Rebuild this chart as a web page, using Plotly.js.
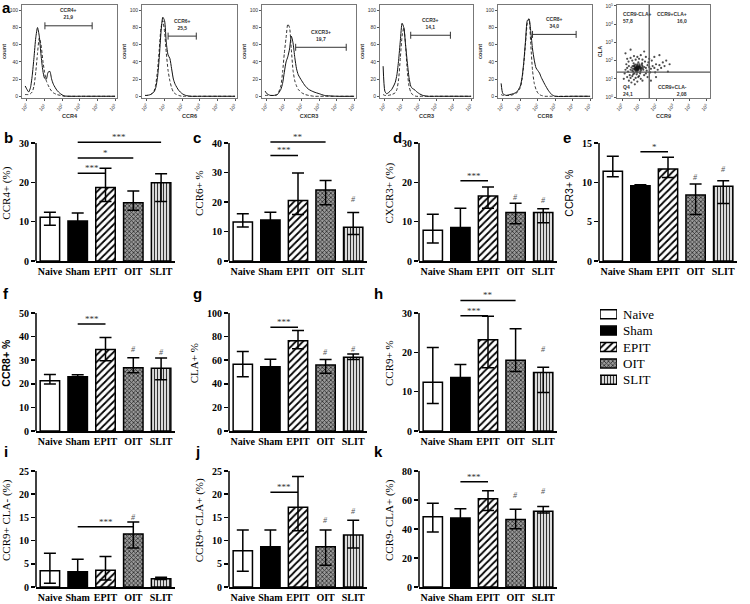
<!DOCTYPE html>
<html><head><meta charset="utf-8">
<script src="https://cdn.plot.ly/plotly-3.0.1.min.js"></script>
<style>html,body{margin:0;padding:0;background:#fff}#chart{width:750px;height:604px}</style>
</head><body><div id="chart"></div>
<script>
// ---------- DATA ----------
const groups = ['Naive','Sham','EPIT','OIT','SLIT'];

// bar panels: mean, upper and lower error ends
const ccr4Mean = [11.1,10.2,18.7,14.8,19.9], ccr4Hi = [12.4,12.2,23.6,17.8,22.2], ccr4Lo = [9.1,8.3,15.1,12.9,15.1];
const ccr6Mean = [13.2,13.9,20.5,24.1,11.4], ccr6Hi = [16.0,16.5,29.8,27.3,16.4], ccr6Lo = [11.5,11.3,15.8,19.1,9.0];
const cxcr3Mean = [7.8,8.5,16.5,12.3,12.3], cxcr3Hi = [11.9,13.4,18.8,14.7,13.3], cxcr3Lo = [4.6,3.6,13.4,9.5,9.7];
const ccr3Mean = [11.4,9.55,11.7,8.4,9.5], ccr3Hi = [13.3,9.7,13.2,9.8,10.2], ccr3Lo = [10.7,9.4,10.6,5.9,7.3];
const ccr8Mean = [21.3,23.0,34.5,26.8,26.6], ccr8Hi = [23.9,23.8,39.6,31.0,30.9], ccr8Lo = [19.9,22.2,29.8,24.7,21.7];
const claMean = [56.5,54.5,76.4,56.0,62.5], claHi = [67.3,60.8,85.2,60.5,65.3], claLo = [46.0,48.2,69.6,48.9,60.5];
const ccr9Mean = [12.4,13.6,23.2,18.0,14.9], ccr9Hi = [21.2,16.9,29.2,26.0,16.2], ccr9Lo = [7.0,10.3,16.1,15.1,9.8];
const ccr9pClaNMean = [3.5,3.3,3.6,11.4,1.8], ccr9pClaNHi = [7.3,6.0,6.6,14.0,2.1], ccr9pClaNLo = [0.8,0.6,1.5,8.4,1.6];
const ccr9pClaPMean = [7.8,8.7,17.2,8.7,11.2], ccr9pClaPHi = [12.3,12.3,23.8,12.3,14.4], ccr9pClaPLo = [3.4,5.1,12.1,4.7,8.4];
const ccr9nClaPMean = [48.5,47.5,60.8,46.6,52.3], ccr9nClaPHi = [57.8,54.0,66.3,53.7,55.5], ccr9nClaPLo = [38.0,41.0,52.8,40.2,51.0];

// significance brackets (from, to, level, label) and '#' marks per panel
const sigB = {from:['Sham','Sham','Sham'], to:['SLIT','OIT','EPIT'], y:[30.2,26.2,22.3], text:['***','*','***']};
const sigC = {from:['Sham','Sham'], to:['EPIT','OIT'], y:[35.8,40.3], text:['***','**']};
const sigD = {from:['Sham'], to:['EPIT'], y:[20.4], text:['***']};
const sigE = {from:['Sham'], to:['EPIT'], y:[13.9], text:['*']};
const sigF = {from:['Sham'], to:['EPIT'], y:[45.3], text:['***']};
const sigG = {from:['Sham'], to:['EPIT'], y:[88], text:['***']};
const sigH = {from:['Sham','Sham'], to:['EPIT','OIT'], y:[29.3,33.2], text:['***','**']};
const sigI = {from:['Sham'], to:['OIT'], y:[13.0], text:['***']};
const sigJ = {from:['Sham'], to:['EPIT'], y:[20.4], text:['***']};
const sigK = {from:['Sham'], to:['EPIT'], y:[72.5], text:['***']};
const hashB = [null,null,null,null,null];
const hashC = [null,null,null,null,20.9];
const hashD = [null,null,null,16.2,15.5];
const hashE = [null,null,null,10.6,11.6];
const hashF = [null,null,null,34.4,33.2];
const hashG = [null,null,null,66.5,69.3];
const hashH = [null,null,null,null,20.6];
const hashI = [null,null,null,15.0,null];
const hashJ = [null,null,null,14.4,16.2];
const hashK = [null,null,null,63.3,65.6];

// flow histograms (x in log10 decades, y = count)
const ccr4HistX = [-0.1,0,0.1,0.2,0.3,0.4,0.5,0.6,0.7,0.8,0.9,1.0,1.1,1.2,1.3,1.4,1.5,1.7,1.9,2.1,2.5,3,4,5];
const ccr4Solid = [12,8,5,10,24,45,68,80,70,48,30,21,20,28,29,20,14,7,3,0.5,0,0,0,0];
const ccr4Dashed = [2,2,2,3,5,12,28,50,68,60,42,28,18,13,9,6,4,2,1,0,0,0,0,0];
const ccr6HistX = [-0.1,0,0.2,0.4,0.5,0.6,0.7,0.8,0.9,1.0,1.1,1.2,1.3,1.4,1.5,1.6,1.8,2.0,2.2,2.5,3,4,5];
const ccr6Solid = [1,1,2,5,10,22,45,75,92,88,62,48,44,32,20,14,7,3,1,0,0,0,0];
const ccr6Dashed = [1,1,2,6,14,30,55,80,88,75,50,30,18,10,5,3,1,0,0,0,0,0,0];
const cxcr3HistX = [-0.1,0,0.2,0.4,0.6,0.8,0.9,1.0,1.1,1.2,1.3,1.4,1.5,1.6,1.7,1.8,2.0,2.2,2.4,2.7,3.0,3.3,4,5];
const cxcr3Solid = [6,3,1,1,2,8,15,28,40,46,55,70,62,45,32,25,18,12,8,5,3,1,0,0];
const cxcr3Dashed = [1,1,1,1,2,12,28,50,68,84,80,55,30,18,12,8,4,2,1,0,0,0,0,0];
const ccr3HistX = [-0.1,0,0.1,0.2,0.4,0.6,0.7,0.8,0.9,1.0,1.1,1.2,1.3,1.4,1.5,1.6,1.7,1.8,2.0,2.2,2.5,3,4,5];
const ccr3Solid = [35,6,3,4,8,16,25,42,65,85,80,60,40,22,12,9,8,6,3,1,0,0,0,0];
const ccr3Dashed = [2,1,1,1,2,4,8,20,45,70,80,60,30,12,5,2,1,0,0,0,0,0,0,0];
const ccr8HistX = [-0.1,0,0.2,0.4,0.6,0.8,1.0,1.1,1.2,1.3,1.4,1.5,1.6,1.7,1.8,1.9,2.0,2.1,2.2,2.4,2.6,2.8,3.0,4,5];
const ccr8Solid = [15,3,1,2,3,5,12,22,40,65,88,90,75,55,42,33,30,27,22,14,7,2,0,0,0];
const ccr8Dashed = [2,1,1,1,2,4,10,20,38,62,85,90,60,30,15,8,4,2,1,0,0,0,0,0,0];
const histMarkers = ['CCR4','CCR6','CXCR3','CCR3','CCR8'];
const gateName = ['CCR4+','CCR6+','CXCR3+','CCR3+','CCR8+'];
const gatePct = ['21,9','25,5','19,7','14,1','34,0'];
const gateLo = [1.02,1.2,1.65,1.5,1.7];
const gateHi = [3.7,2.8,4.55,3.8,4.2];
const gateLevel = [82,70,57,71,72];

// CCR9 vs CLA dot plot (log10 decades)
const scatX = [0.9,0.85,0.95,1.0,0.8,0.75,1.05,0.92,0.88,1.1,0.7,0.65,1.15,0.98,0.82,1.2,0.6,0.78,1.02,0.9,1.25,0.55,1.3,0.72,1.08,0.96,0.68,1.18,0.5,0.86,1.4,1.5,1.45,1.6,1.7,1.55,1.8,1.9,2.0,1.65,2.1,2.2,1.35,1.75,2.3,1.95,2.5,2.4,0.4,0.35,0.3,0.45,0.25,0.2,0.38,0.15,0.5,0.3,0.6,0.8,1.0,0.7,0.9,1.1,0.55,1.3,0.4,1.2,0.75,1.5,0.95,1.4,0.65,0.8,1.0,0.6,1.2,0.9,1.4,0.5,1.1,0.7,1.6,0.3,1.9,2.7,2.6,0.1,1.7,0.2,2.2,1.3,0.5,2.0,2.8,0.84,0.94,0.76,1.04,0.88,0.99,0.8,1.12,0.72,0.62,1.22,0.9,0.66,1.06,1.16,0.87,0.93,0.79,1.01,0.83,0.97,0.74,1.09,0.91,0.86];
const scatY = [1.6,1.55,1.65,1.58,1.62,1.5,1.7,1.45,1.72,1.55,1.68,1.55,1.62,1.5,1.4,1.7,1.45,1.78,1.8,1.35,1.5,1.62,1.65,1.3,1.4,1.9,1.85,1.85,1.5,1.25,1.6,1.75,1.45,1.65,1.55,1.9,1.7,1.6,1.8,1.35,1.5,1.75,1.95,2.0,1.6,1.35,1.7,1.9,1.7,1.4,1.6,1.2,1.8,1.5,1.95,1.3,1.05,1.1,1.15,1.05,1.15,0.95,0.85,1.0,0.8,1.2,0.9,0.9,0.7,1.1,1.1,1.3,1.25,2.05,2.1,2.0,2.05,2.2,2.2,2.15,2.3,2.25,2.1,2.1,2.2,1.4,2.0,1.0,0.9,2.4,2.3,2.5,2.6,1.1,1.8,1.6,1.56,1.6,1.64,1.52,1.7,1.48,1.48,1.72,1.7,1.58,1.8,1.4,1.3,1.78,1.63,1.53,1.57,1.67,1.66,1.6,1.54,1.59,1.69,1.47];
const quadGateX = 1.6, quadGateY = 1.37;
const quadLabels = ['CCR9-CLA+<br>57,8','CCR9+CLA+<br>16,0','Q4<br>24,1','CCR9+CLA-<br>2,08'];
const decadeTicks = ['10<sup>0</sup>','10<sup>1</sup>','10<sup>2</sup>','10<sup>3</sup>','10<sup>4</sup>','10<sup>5</sup>'];

// ---------- PANEL SETUP ----------
const SERIF = 'Liberation Serif, Times New Roman, serif', SANS = 'Liberation Sans, Arial, sans-serif';
const panels = [
  {mean:ccr4Mean, hi:ccr4Hi, lo:ccr4Lo, top:30, dtick:10, title:'CCR4+ (%)', tf:{family:SERIF,size:11}, sig:sigB, hash:hashB, letter:'b'},
  {mean:ccr6Mean, hi:ccr6Hi, lo:ccr6Lo, top:40, dtick:10, title:'CCR6+ %', tf:{family:SERIF,size:11}, sig:sigC, hash:hashC, letter:'c'},
  {mean:cxcr3Mean, hi:cxcr3Hi, lo:cxcr3Lo, top:30, dtick:10, title:'CXCR3+ (%)', tf:{family:SERIF,size:11}, sig:sigD, hash:hashD, letter:'d'},
  {mean:ccr3Mean, hi:ccr3Hi, lo:ccr3Lo, top:15, dtick:5, title:'CCR3+ %', tf:{family:SANS,size:10.5}, sig:sigE, hash:hashE, letter:'e'},
  {mean:ccr8Mean, hi:ccr8Hi, lo:ccr8Lo, top:50, dtick:10, title:'CCR8+ %', tf:{family:SANS,size:10.5,weight:'bold'}, sig:sigF, hash:hashF, letter:'f'},
  {mean:claMean, hi:claHi, lo:claLo, top:100, dtick:20, title:'CLA+ %', tf:{family:SERIF,size:11}, sig:sigG, hash:hashG, letter:'g'},
  {mean:ccr9Mean, hi:ccr9Hi, lo:ccr9Lo, top:30, dtick:10, title:'CCR9+ %', tf:{family:SERIF,size:11}, sig:sigH, hash:hashH, letter:'h'},
  {mean:ccr9pClaNMean, hi:ccr9pClaNHi, lo:ccr9pClaNLo, top:25, dtick:5, title:'CCR9+ CLA- (%)', tf:{family:SERIF,size:11}, sig:sigI, hash:hashI, letter:'i'},
  {mean:ccr9pClaPMean, hi:ccr9pClaPHi, lo:ccr9pClaPLo, top:25, dtick:5, title:'CCR9+ CLA+ (%)', tf:{family:SERIF,size:11}, sig:sigJ, hash:hashJ, letter:'j'},
  {mean:ccr9nClaPMean, hi:ccr9nClaPHi, lo:ccr9nClaPLo, top:80, dtick:20, title:'CCR9- CLA+ (%)', tf:{family:SERIF,size:11}, sig:sigK, hash:hashK, letter:'k'}
];
const panelCol = [0,1,2,3,0,1,2,0,1,2];
const panelRow = [0,0,0,0,1,1,1,2,2,2];
const colPx = [[36,175],[229,367],[419,557],[599,737]];
const rowPx = [[261,143],[431,313],[587,471]];
const letterPx = [[8,137],[197,137],[398,137],[567,137],[6,293],[197,293],[378,293],[6,451],[197,451],[378,451]];
const headroom = 1.15;

const groupStyle = [
  {bg:'#ffffff', shape:'', fg:'#000', size:4, sol:0.3},
  {bg:'#000000', shape:'', fg:'#000', size:4, sol:0.3},
  {bg:'#ffffff', shape:'/', fg:'#000', size:5, sol:0.35},
  {bg:'#9a9a9a', shape:'x', fg:'#2a2a2a', size:3, sol:0.45},
  {bg:'#ffffff', shape:'|', fg:'#333', size:3, sol:0.45}
];
const barMarker = s => ({color: s.bg, line: {color: '#000', width: 1.5},
  pattern: {shape: s.shape, fgcolor: s.fg, bgcolor: s.bg, size: s.size, solidity: s.sol, fillmode: 'replace'}});

const W = 750, H = 604;
const fx = px => px / W, fy = px => 1 - px / H;

const data = [];
const layout = {
  width: W, height: H, autosize: false,
  margin: {l:0, r:0, t:0, b:0},
  paper_bgcolor: '#fff', plot_bgcolor: 'rgba(0,0,0,0)',
  barmode: 'overlay', bargap: 0.3,
  font: {family: SERIF, color: '#000'},
  showlegend: false,
  shapes: [], annotations: []
};
const tickFontBold = {family: SERIF, size: 10, weight: 'bold', color: '#000'};

panels.forEach((p, i) => {
  const n = i + 1;
  const xa = 'x' + (n === 1 ? '' : n), ya = 'y' + (n === 1 ? '' : n);
  const xk = 'xaxis' + (n === 1 ? '' : n), yk = 'yaxis' + (n === 1 ? '' : n);
  const c = colPx[panelCol[i]], r = rowPx[panelRow[i]];
  const zero = r[0], topT = r[1];
  const domTop = zero - (zero - topT) * headroom;
  groups.forEach((g, k) => {
    data.push({
      type: 'bar', x: [g], y: [p.mean[k]], xaxis: xa, yaxis: ya, name: g,
      legendgroup: g, showlegend: false, width: 0.7,
      marker: barMarker(groupStyle[k]),
      error_y: {type: 'data', symmetric: false, array: [p.hi[k] - p.mean[k]], arrayminus: [p.mean[k] - p.lo[k]],
                color: '#000', thickness: 1.5, width: 6},
      hoverinfo: 'skip'
    });
  });
  const tv = [];
  for (let v = 0; v <= p.top + 1e-9; v += p.dtick) tv.push(v);
  layout[xk] = {domain: [fx(c[0]), fx(c[1])], anchor: ya, type: 'category', categoryarray: groups,
    range: [-0.5, 4.5], showline: true, linecolor: '#000', linewidth: 1.5, ticks: '', showgrid: false, zeroline: false,
    tickfont: tickFontBold, fixedrange: true};
  layout[yk] = {domain: [fy(zero), fy(domTop)], anchor: xa, range: [0, p.top * headroom], tickvals: tv,
    ticks: 'outside', ticklen: 4, tickwidth: 1.5, tickcolor: '#000', showline: false, showgrid: false, zeroline: false,
    tickfont: tickFontBold,
    title: {text: p.title, font: Object.assign({color: '#000'}, p.tf), standoff: 6}, fixedrange: true};
  layout.shapes.push({type: 'line', xref: xa + ' domain', yref: ya, x0: 0, x1: 0, y0: 0, y1: p.top,
    line: {color: '#000', width: 1.5}});
  p.sig.from.forEach((f, j) => {
    const i0 = groups.indexOf(f), i1 = groups.indexOf(p.sig.to[j]);
    layout.shapes.push({type: 'line', xref: xa, yref: ya, x0: i0, x1: i1, y0: p.sig.y[j], y1: p.sig.y[j],
      line: {color: '#000', width: 1.5}});
    layout.annotations.push({xref: xa, yref: ya, x: (i0 + i1) / 2, y: p.sig.y[j], text: p.sig.text[j],
      showarrow: false, yanchor: 'bottom', yshift: -2, font: {family: SERIF, size: 9, color: '#333'}});
  });
  p.hash.forEach((h, k) => {
    if (h === null) return;
    layout.annotations.push({xref: xa, yref: ya, x: k, y: h, text: '#', showarrow: false, yanchor: 'middle',
      font: {family: SERIF, size: 8, color: '#555', style: 'italic'}});
  });
  layout.annotations.push({xref: 'paper', yref: 'paper', x: fx(letterPx[i][0]), y: fy(letterPx[i][1]), text: p.letter,
    showarrow: false, xanchor: 'center', yanchor: 'middle', font: {family: SANS, size: 15, weight: 'bold', color: '#000'}});
});

// ---------- group key (drawn as a small horizontal-bar subplot) ----------
const keyPx = {x: [600, 617], y: [306, 388]};
groups.forEach((g, k) => {
  data.push({type: 'bar', orientation: 'h', x: [1], y: [g], xaxis: 'x17', yaxis: 'y17', width: 0.55,
    showlegend: false, marker: barMarker(groupStyle[k]), hoverinfo: 'skip'});
});
layout.xaxis17 = {domain: [fx(keyPx.x[0]), fx(keyPx.x[1])], anchor: 'y17', range: [0, 1], visible: false, fixedrange: true};
layout.yaxis17 = {domain: [fy(keyPx.y[1]), fy(keyPx.y[0])], anchor: 'x17', type: 'category', categoryarray: groups,
  range: [4.5, -0.5], side: 'right', showline: false, ticks: '', showgrid: false, zeroline: false,
  tickfont: {family: SERIF, size: 13, color: '#000'}, ticklabelstandoff: 5, fixedrange: true};

// ---------- TOP ROW: flow histograms ----------
const histX = [ccr4HistX, ccr6HistX, cxcr3HistX, ccr3HistX, ccr8HistX];
const histSolid = [ccr4Solid, ccr6Solid, cxcr3Solid, ccr3Solid, ccr8Solid];
const histDashed = [ccr4Dashed, ccr6Dashed, cxcr3Dashed, ccr3Dashed, ccr8Dashed];
const histPx = [[22,117],[142,237],[262,356],[380,473],[498,592],[617,710]];
const histY = [5, 98];
const smallTick = {family: SANS, size: 5, color: '#333'};
histPx.forEach((hp, h) => {
  const n = 11 + h;
  const xa = 'x' + n, ya = 'y' + n;
  const isScatter = h === 5;
  layout['xaxis' + n] = {domain: [fx(hp[0]), fx(hp[1])], anchor: ya,
    range: isScatter ? [-0.3, 5.18] : [-0.28, 5.11],
    tickvals: [0,1,2,3,4,5], ticktext: decadeTicks, tickfont: smallTick, tickangle: -45,
    ticks: 'outside', ticklen: 2, tickcolor: '#555', showline: true, mirror: true, linecolor: '#777', linewidth: 1,
    showgrid: false, zeroline: false,
    title: {text: isScatter ? 'CCR9' : histMarkers[h], font: {family: SANS, size: 5.5, weight: 'bold', color: '#333'}, standoff: 2}};
  layout['yaxis' + n] = {domain: [fy(histY[1]), fy(histY[0])], anchor: xa,
    range: isScatter ? [-0.05, 5.05] : [-2, 106.2],
    tickvals: isScatter ? [0,1,2,3,4,5] : [0,20,40,60,80,100],
    ticktext: isScatter ? decadeTicks : ['0','20','40','60','80','100'],
    tickfont: smallTick, ticks: 'outside', ticklen: 2, tickcolor: '#555',
    showline: true, mirror: true, linecolor: '#777', linewidth: 1, showgrid: false, zeroline: false,
    title: {text: isScatter ? 'CLA' : 'count', font: {family: SANS, size: 5.5, weight: 'bold', color: '#333'}, standoff: 2}};
  if (!isScatter) {
    data.push({type: 'scatter', mode: 'lines', x: histX[h], y: histDashed[h], xaxis: xa, yaxis: ya, showlegend: false,
      line: {color: '#333', width: 1, dash: '3px,2px', shape: 'spline', smoothing: 0.6}, hoverinfo: 'skip'});
    data.push({type: 'scatter', mode: 'lines', x: histX[h], y: histSolid[h], xaxis: xa, yaxis: ya, showlegend: false,
      line: {color: '#111', width: 1, shape: 'spline', smoothing: 0.6}, hoverinfo: 'skip'});
    data.push({type: 'scatter', mode: 'lines+markers', x: [gateLo[h], gateHi[h]], y: [gateLevel[h], gateLevel[h]],
      xaxis: xa, yaxis: ya, showlegend: false, line: {color: '#333', width: 1},
      marker: {symbol: 'line-ns-open', size: 5, line: {color: '#333', width: 1}}, hoverinfo: 'skip'});
    layout.annotations.push({xref: xa, yref: ya, x: (gateLo[h] + gateHi[h]) / 2, y: gateLevel[h] + 4,
      text: gateName[h] + '<br>' + gatePct[h], showarrow: false, yanchor: 'bottom',
      font: {family: SANS, size: 5, weight: 'bold', color: '#333'}});
  } else {
    data.push({type: 'scatter', mode: 'markers', x: scatX, y: scatY, xaxis: xa, yaxis: ya, showlegend: false,
      marker: {size: 2.2, color: '#111', opacity: 0.75}, hoverinfo: 'skip'});
    layout.shapes.push({type: 'line', xref: xa, yref: ya + ' domain', x0: quadGateX, x1: quadGateX, y0: 0, y1: 1,
      line: {color: '#555', width: 1.3}});
    layout.shapes.push({type: 'line', xref: xa + ' domain', yref: ya, x0: 0, x1: 1, y0: quadGateY, y1: quadGateY,
      line: {color: '#555', width: 1.3}});
    const qpos = [[-0.05, 4.85, 'left', 'top'], [3.95, 4.85, 'right', 'top'], [-0.05, 0.85, 'left', 'top'], [3.95, 0.85, 'right', 'top']];
    quadLabels.forEach((t, q) => {
      layout.annotations.push({xref: xa, yref: ya, x: qpos[q][0], y: qpos[q][1], text: t, showarrow: false,
        xanchor: qpos[q][2], yanchor: qpos[q][3], align: qpos[q][2],
        font: {family: SANS, size: 5, weight: 'bold', color: '#333'}});
    });
  }
});
layout.annotations.push({xref: 'paper', yref: 'paper', x: fx(6), y: fy(7), text: 'a', showarrow: false,
  xanchor: 'center', yanchor: 'middle', font: {family: SANS, size: 15, weight: 'bold', color: '#000'}});

Plotly.newPlot('chart', data, layout, {staticPlot: true, displayModeBar: false});
</script>
</body></html>
